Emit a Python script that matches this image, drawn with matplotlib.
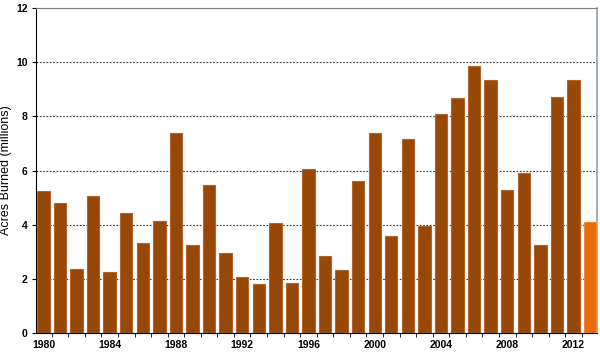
import matplotlib
matplotlib.use("Agg")
import matplotlib.pyplot as plt
import numpy as np

plt.rcParams['font.family'] = ['Liberation Sans', 'DejaVu Sans']

# acres burned per year, millions
years = list(range(1980, 2014))
acres = [5.26, 4.81, 2.38, 5.08, 2.27, 4.43, 3.31, 4.15, 7.40, 3.26,
         5.45, 2.95, 2.07, 1.80, 4.07, 1.84, 6.07, 2.86, 2.33, 5.63,
         7.39, 3.57, 7.18, 3.96, 8.10, 8.69, 9.87, 9.33, 5.29, 5.92,
         3.24, 8.71, 9.33, 4.10]
tick_years = list(range(1980, 2013, 4))

fig = plt.figure(figsize=(6.0, 3.53), dpi=100)
ax = fig.add_axes([0.06, 0.0567, 0.935, 0.92])

x = np.arange(len(years))
colors = ['#974706'] * (len(years) - 1) + ['#E46C0A']
edges = ['#B0652E'] * (len(years) - 1) + ['#F08A3A']
ax.bar(x, acres, width=0.75, color=colors, edgecolor=edges, linewidth=0.8, zorder=3)

ax.set_xlim(-0.45, len(years) - 0.58)
ax.set_ylim(0, 12)
ax.set_yticks(range(0, 13, 2))
ax.yaxis.grid(True, linestyle=(0, (1.5, 1.5)), color='#333333', linewidth=0.8, zorder=0)

ax.set_xticks([years.index(y) for y in tick_years])
ax.set_xticklabels([str(y) for y in tick_years])
ax.set_xticks(x[:-1] + 0.5, minor=True)
ax.tick_params(axis='x', which='major', length=0, pad=5)
ax.tick_params(axis='x', which='minor', length=3, direction='out', color='black')
ax.tick_params(axis='y', length=3, direction='out', pad=3)
for lab in ax.get_xticklabels() + ax.get_yticklabels():
    lab.set_fontweight('bold')
    lab.set_fontsize(7.5)

ax.set_ylabel('Acres Burned (millions)', fontsize=9)
ax.yaxis.set_label_coords(-0.042, 0.5)

ax.spines['left'].set_color('black')
ax.spines['bottom'].set_color('black')
ax.spines['top'].set_color('#7F7F7F')
ax.spines['right'].set_color('#8DA0B3')
ax.spines['right'].set_linewidth(1.2)

fig.savefig('out.png', dpi=100)
